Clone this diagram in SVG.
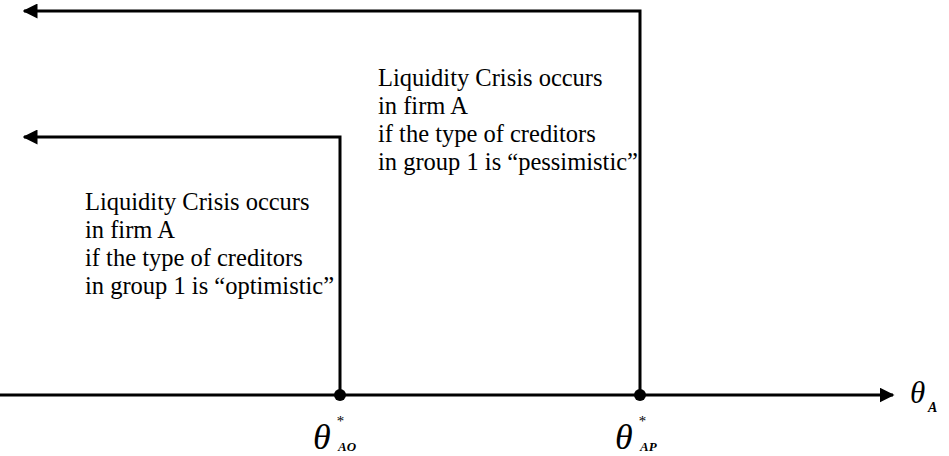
<svg xmlns="http://www.w3.org/2000/svg" width="949" height="456" viewBox="0 0 949 456">
<defs>
<style>
.ln{fill:none;stroke:#000;stroke-width:3}
.t{font-family:"Liberation Serif","Times New Roman",serif;font-size:24.5px;fill:#000}
.th{font-family:"Liberation Serif","Times New Roman",serif;font-style:italic;fill:#000}
.sub{font-family:"Liberation Serif","Times New Roman",serif;font-style:italic;font-weight:bold;fill:#000}
</style>
<marker id="ah" viewBox="0 0 10 10" refX="9" refY="5" markerWidth="5" markerHeight="5" orient="auto-start-reverse" markerUnits="strokeWidth">
<path d="M0,0 L10,5 L0,10 z" fill="#000"/>
</marker>
</defs>
<rect width="949" height="456" fill="#fff"/>
<g id="connectors">
<path class="ln" d="M640,395 V11 H24" marker-end="url(#ah)"/>
<path class="ln" d="M340,395 V137 H24" marker-end="url(#ah)"/>
<path class="ln" d="M0,395 H893" marker-end="url(#ah)"/>
</g>
<g id="pointAO">
<circle cx="340" cy="395" r="6" fill="#000"/>
<text class="th" x="313" y="449" font-size="36">θ</text>
<text class="th" x="336" y="426" font-size="15">*</text>
<text class="sub" x="338" y="451" font-size="13">AO</text>
</g>
<g id="pointAP">
<circle cx="640" cy="395" r="6" fill="#000"/>
<text class="th" x="615" y="449" font-size="36">θ</text>
<text class="th" x="638" y="426" font-size="15">*</text>
<text class="sub" x="640" y="451" font-size="13">AP</text>
</g>
<g id="axisLabel">
<text class="th" x="910" y="403" font-size="31">θ</text>
<text class="sub" x="928" y="412" font-size="14">A</text>
</g>
<g id="labelPessimistic">
<text class="t" x="378" y="86">Liquidity Crisis occurs</text>
<text class="t" x="378" y="114">in firm A</text>
<text class="t" x="378" y="142">if the type of creditors</text>
<text class="t" x="378" y="170">in group 1 is “pessimistic”</text>
</g>
<g id="labelOptimistic">
<text class="t" x="85" y="210">Liquidity Crisis occurs</text>
<text class="t" x="85" y="238">in firm A</text>
<text class="t" x="85" y="266">if the type of creditors</text>
<text class="t" x="85" y="294">in group 1 is “optimistic”</text>
</g>
</svg>
